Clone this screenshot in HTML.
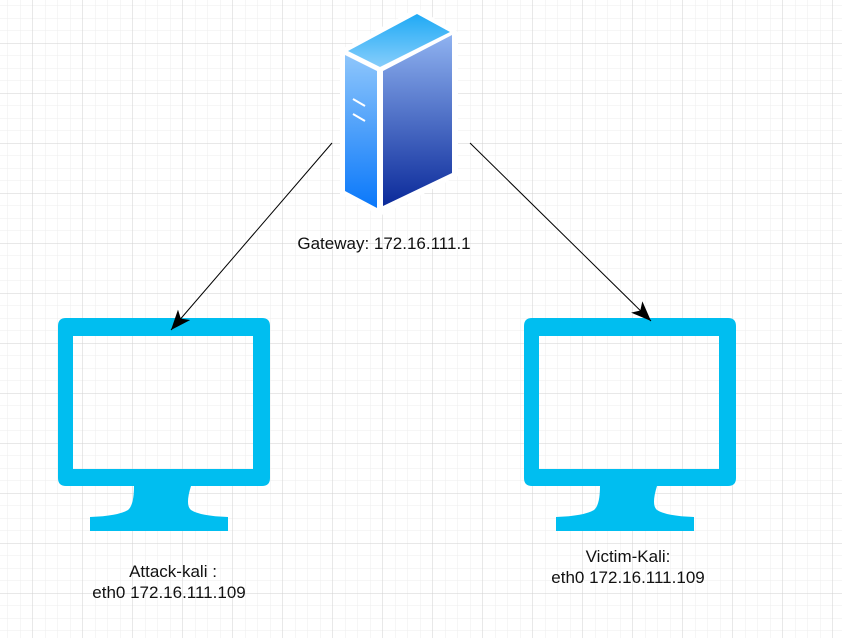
<!DOCTYPE html>
<html><head><style>
html,body{margin:0;padding:0;background:#fff}
svg{display:block}
text{font-family:"Liberation Sans",Arial,sans-serif;font-size:17px;fill:#111}
</style></head><body>
<svg width="842" height="638" viewBox="0 0 842 638" xmlns="http://www.w3.org/2000/svg">
<defs>
<pattern id="minor" x="7.5" y="5.5" width="12.5" height="12.5" patternUnits="userSpaceOnUse">
<path d="M0 0H12.5M0 0V12.5" stroke="#eeeeee" stroke-width="1" fill="none"/>
</pattern>
<pattern id="major" x="32.5" y="43" width="50" height="50" patternUnits="userSpaceOnUse">
<path d="M0 0H50M0 0V50" stroke="#d2d2d2" stroke-width="1" fill="none"/>
</pattern>
<linearGradient id="top" x1="0" y1="0" x2="0" y2="1"><stop offset="0" stop-color="#1faaf5"/><stop offset="1" stop-color="#86cdfb"/></linearGradient>
<linearGradient id="left" x1="0" y1="0" x2="0" y2="1"><stop offset="0" stop-color="#8ec6fb"/><stop offset="1" stop-color="#0a78fa"/></linearGradient>
<linearGradient id="right" x1="0" y1="0" x2="0" y2="1"><stop offset="0" stop-color="#8fb2f0"/><stop offset="1" stop-color="#0b2a9a"/></linearGradient>
<marker id="ah" markerWidth="22" markerHeight="22" refX="20" refY="8" orient="auto" markerUnits="userSpaceOnUse">
<path d="M0 0L20 8L0 16L5 8Z" fill="#000"/>
</marker>
</defs>
<rect width="842" height="638" fill="url(#minor)"/>
<rect width="842" height="638" fill="url(#major)"/>

<g>
<path d="M340 50L417 8L458 32L458 176L380 216L340 194Z" fill="#fff"/>
<path d="M348 51L417 14L450 32L380 67Z" fill="url(#top)"/>
<path d="M345 55L377 71L377 208L345 191Z" fill="url(#left)"/>
<path d="M383 71L452 35L452 173L383 206Z" fill="url(#right)"/>
<path d="M353 99L365 106M353 114L365 121" stroke="#fff" stroke-width="2"/>
</g>

<g fill="#00bef0">
<path fill-rule="evenodd" d="M66 318H262Q270 318 270 326V478Q270 486 262 486H66Q58 486 58 478V326Q58 318 66 318ZM73 336V469H253V336Z"/>
<path d="M134 486H191Q185 505 191 510Q200 516 228 517V531H90V517Q118 516 128 510Q134 505 134 486Z"/>
</g>
<g fill="#00bef0" transform="translate(466,0)">
<path fill-rule="evenodd" d="M66 318H262Q270 318 270 326V478Q270 486 262 486H66Q58 486 58 478V326Q58 318 66 318ZM73 336V469H253V336Z"/>
<path d="M134 486H191Q185 505 191 510Q200 516 228 517V531H90V517Q118 516 128 510Q134 505 134 486Z"/>
</g>

<line x1="332" y1="143" x2="171" y2="330" stroke="#000" stroke-width="1" marker-end="url(#ah)"/>
<line x1="470" y1="143" x2="651" y2="321" stroke="#000" stroke-width="1" marker-end="url(#ah)"/>

<text x="384" y="249" text-anchor="middle">Gateway: 172.16.111.1</text>
<text x="173" y="577" text-anchor="middle">Attack-kali :</text>
<text x="169" y="598" text-anchor="middle">eth0 172.16.111.109</text>
<text x="628" y="562" text-anchor="middle">Victim-Kali:</text>
<text x="628" y="583" text-anchor="middle">eth0 172.16.111.109</text>
</svg>
</body></html>
